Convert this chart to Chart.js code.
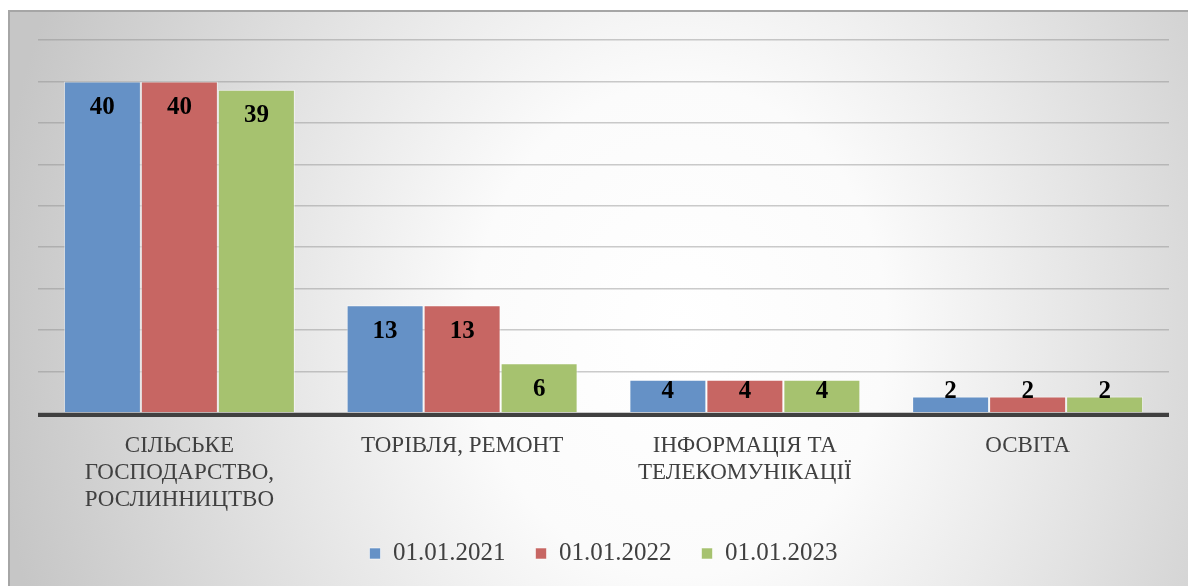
<!DOCTYPE html>
<html>
<head>
<meta charset="utf-8">
<title>Chart</title>
<script src="https://cdn.jsdelivr.net/npm/chart.js@4/dist/chart.umd.min.js"></script>
<style>
    html, body {
        margin: 0;
        padding: 0;
        background: #ffffff;
    }

    #chart {
        display: block;
    }
</style>
</head>
<body>
<canvas id="chart" width="1188" height="586"></canvas>
<script>
    "use strict";

    var categories = [
        ["СІЛЬСЬКЕ", "ГОСПОДАРСТВО,", "РОСЛИННИЦТВО"],
        ["ТОРІВЛЯ, РЕМОНТ"],
        ["ІНФОРМАЦІЯ ТА", "ТЕЛЕКОМУНІКАЦІЇ"],
        ["ОСВІТА"]
    ];
    var seriesNames = ["01.01.2021", "01.01.2022", "01.01.2023"];
    var values2021 = [40, 13, 4, 2];
    var values2022 = [40, 13, 4, 2];
    var values2023 = [39, 6, 4, 2];
    var axisMax = 45;
    var axisStep = 5;

    var serif = "'Liberation Serif', 'DejaVu Serif', serif";
    var textColor = "#404040";

    // gray frame with a soft light patch in the middle, like the office chart area
    var backgroundPlugin = {
        id: "background",
        beforeDraw: function(chart) {
            var ctx = chart.ctx;
            var w = chart.width;
            var h = chart.height;

            ctx.save();
            ctx.fillStyle = "#ffffff";
            ctx.fillRect(0, 0, w, h);

            var cx = 680;
            var cy = 330;
            var rx = 690;
            var ry = 820;

            ctx.beginPath();
            ctx.rect(8, 10, w - 8, h - 10);
            ctx.clip();
            ctx.translate(cx, cy);
            ctx.scale(1, ry / rx);
            var grad = ctx.createRadialGradient(0, 0, 0, 0, 0, rx);
            grad.addColorStop(0, "#ffffff");
            grad.addColorStop(0.3, "#fbfbfb");
            grad.addColorStop(1, "#c6c6c6");
            ctx.fillStyle = grad;
            ctx.fillRect(-cx - 10, -cy * rx / ry - 10, w + 20, h * rx / ry + 20);
            ctx.restore();

            ctx.save();
            ctx.fillStyle = "#a6a6a6";
            ctx.fillRect(8, 10, w - 8, 2);
            ctx.fillRect(8, 10, 2, h - 10);
            ctx.restore();
        }
    };

    var baselinePlugin = {
        id: "baseline",
        afterDatasetsDraw: function(chart) {
            var area = chart.chartArea;
            var ctx = chart.ctx;

            ctx.save();
            ctx.fillStyle = "#404040";
            ctx.fillRect(area.left, area.bottom, area.right - area.left, 4);
            ctx.restore();
        }
    };

    var valueLabelPlugin = {
        id: "valueLabels",
        afterDatasetsDraw: function(chart) {
            var ctx = chart.ctx;

            ctx.save();
            ctx.font = "bold 25px " + serif;
            ctx.fillStyle = "#000000";
            ctx.textAlign = "center";
            ctx.textBaseline = "middle";

            chart.data.datasets.forEach(function(dataset, i) {
                var meta = chart.getDatasetMeta(i);

                meta.data.forEach(function(bar, j) {
                    var y = Math.min(bar.y + 26, bar.base - 21);
                    ctx.fillText(String(dataset.data[j]), bar.x, y);
                });
            });

            ctx.restore();
        }
    };

    function makeDataset(label, data, color) {
        return {
            label: label,
            data: data,
            backgroundColor: color,
            borderColor: "rgba(255, 255, 255, 0.55)",
            borderWidth: 1,
            borderSkipped: "bottom",
            barPercentage: 1,
            categoryPercentage: 0.817
        };
    }

    new Chart(document.getElementById("chart").getContext("2d"), {
        type: "bar",
        data: {
            labels: categories,
            datasets: [
                makeDataset(seriesNames[0], values2021, "#6591c6"),
                makeDataset(seriesNames[1], values2022, "#c76663"),
                makeDataset(seriesNames[2], values2023, "#a6c26f")
            ]
        },
        options: {
            responsive: false,
            animation: false,
            devicePixelRatio: 1,
            layout: {
                padding: {
                    left: 38,
                    right: 19,
                    top: 40,
                    bottom: 10
                }
            },
            plugins: {
                legend: {
                    position: "bottom",
                    labels: {
                        boxWidth: 11,
                        boxHeight: 11,
                        padding: 30,
                        color: textColor,
                        font: {
                            family: serif,
                            size: 25
                        }
                    }
                },
                tooltip: {
                    enabled: false
                }
            },
            scales: {
                x: {
                    afterFit: function(scale) {
                        scale.height = 98;
                    },
                    grid: {
                        display: false,
                        drawTicks: false
                    },
                    border: {
                        display: false
                    },
                    ticks: {
                        autoSkip: false,
                        maxRotation: 0,
                        padding: 19,
                        color: textColor,
                        font: {
                            family: serif,
                            size: 23,
                            lineHeight: "27px"
                        }
                    }
                },
                y: {
                    min: 0,
                    max: axisMax,
                    border: {
                        display: false
                    },
                    grid: {
                        drawTicks: false,
                        color: "rgba(140, 140, 140, 0.45)",
                        lineWidth: 1.5
                    },
                    ticks: {
                        display: false,
                        stepSize: axisStep
                    }
                }
            }
        },
        plugins: [backgroundPlugin, baselinePlugin, valueLabelPlugin]
    });
</script>
</body>
</html>
